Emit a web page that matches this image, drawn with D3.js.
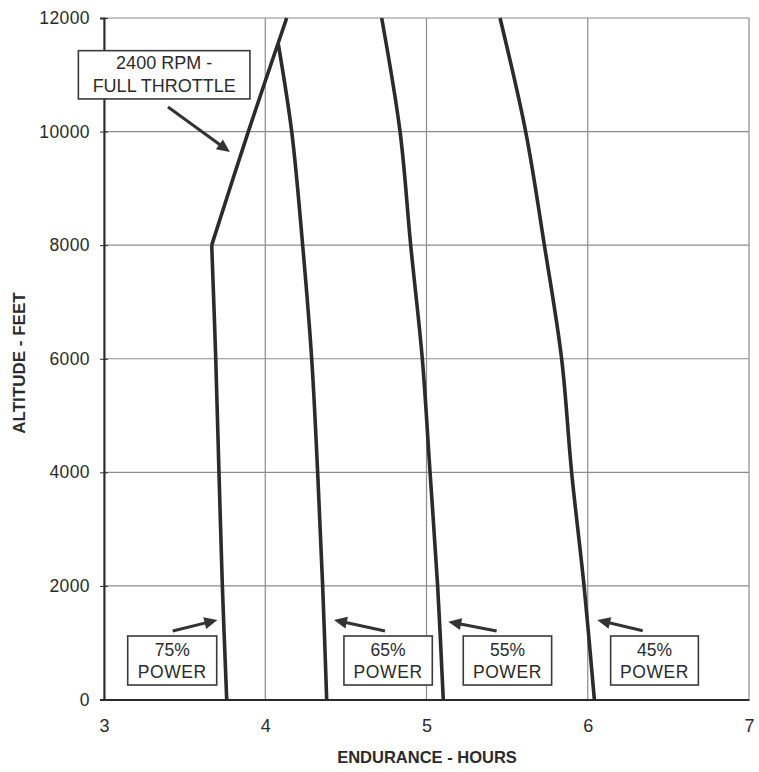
<!DOCTYPE html>
<html>
<head>
<meta charset="utf-8">
<script src="https://cdn.jsdelivr.net/npm/d3@7"></script>
<style>
  html, body { margin: 0; padding: 0; background: #fff; }
  svg { display: block; font-family: "Liberation Sans", Arial, Helvetica, sans-serif; }
</style>
</head>
<body>
<svg id="chart" width="759" height="772"></svg>
<script>
// ---- data ----
const xTicks = [3, 4, 5, 6, 7];
const yTicks = [0, 2000, 4000, 6000, 8000, 10000, 12000];
const xTitle = "ENDURANCE - HOURS";
const yTitle = "ALTITUDE - FEET";

// altitude (ft) / endurance (hours)
const alt75 = [0, 2000, 4000, 6000, 8000];
const end75 = [3.761, 3.734, 3.713, 3.693, 3.668];

const altFull = [8000, 10000, 12000];
const endFull = [3.668, 3.895, 4.133];

const alt65 = [0, 2000, 4000, 6000, 8000, 10000, 11540];
const end65 = [4.381, 4.356, 4.325, 4.288, 4.232, 4.164, 4.081];

const alt55 = [0, 2000, 4000, 6000, 8000, 10000, 12000];
const end55 = [5.104, 5.069, 5.022, 4.974, 4.902, 4.836, 4.722];

const alt45 = [0, 2000, 4000, 6000, 8000, 10000, 12000];
const end45 = [6.041, 5.977, 5.900, 5.838, 5.731, 5.615, 5.456];

// annotations (in data units)
const labelLines = [["2400 RPM -", "FULL THROTTLE"], ["75%", "POWER"], ["65%", "POWER"], ["55%", "POWER"], ["45%", "POWER"]];
const labelBoxX = [[2.841, 3.905], [3.147, 3.699], [4.488, 5.036], [5.228, 5.776], [6.142, 6.686]];
const labelBoxY = [[11425, 10575], [1118, 255], [1118, 255], [1118, 255], [1118, 255]];
const labelBase = [[11094, 10698], [766, 384], [766, 384], [766, 384], [766, 384]];
const arrowFrom = [[3.397, 10433], [3.426, 1206], [4.743, 1206], [5.435, 1206], [6.341, 1211]];
const arrowTo = [[3.781, 9641], [3.703, 1400], [4.426, 1400], [5.135, 1370], [6.059, 1400]];

// ---- layout ----
const svg = d3.select("#chart");
const x = d3.scaleLinear().domain([3, 7]).range([104, 749]);
const y = d3.scaleLinear().domain([0, 12000]).range([699.5, 18]);
const ink = "#2b2b2b";

// gridlines
svg.append("g").selectAll("line").data(xTicks).join("line")
  .attr("x1", d => x(d)).attr("x2", d => x(d))
  .attr("y1", y(0)).attr("y2", y(12000))
  .attr("stroke", "#8c8c8c").attr("stroke-width", 1.2);
svg.append("g").selectAll("line").data(yTicks).join("line")
  .attr("x1", x(3)).attr("x2", x(7))
  .attr("y1", d => y(d)).attr("y2", d => y(d))
  .attr("stroke", "#8c8c8c").attr("stroke-width", 1.2);

// axes
const yAxis = d3.axisLeft(y).tickValues(yTicks).tickSize(4).tickPadding(10).tickFormat(d3.format("d"));
const gy = svg.append("g").attr("transform", `translate(${x(3)},0)`).call(yAxis);
gy.select(".domain").attr("stroke", ink).attr("stroke-width", 2);
gy.selectAll(".tick line").attr("stroke", ink).attr("x2", 4).attr("x1", -4);
gy.selectAll(".tick text").attr("fill", ink).attr("font-size", 17.5)
  .attr("letter-spacing", 0.4).attr("font-family", "Liberation Sans, Arial, sans-serif");

const xAxis = d3.axisBottom(x).tickValues(xTicks).tickSize(0).tickPadding(20).tickFormat(d3.format("d"));
const gx = svg.append("g").attr("transform", `translate(0,${y(0)})`).call(xAxis);
gx.select(".domain").attr("stroke", ink).attr("stroke-width", 2.2);
gx.selectAll(".tick text").attr("fill", ink).attr("font-size", 18)
  .attr("font-family", "Liberation Sans, Arial, sans-serif");

// titles
svg.append("text").attr("x", 427).attr("y", 763).attr("text-anchor", "middle")
  .attr("font-weight", "bold").attr("font-size", 16.5).attr("fill", ink).text(xTitle);
svg.append("text").attr("transform", `translate(25,${363}) rotate(-90)`).attr("text-anchor", "middle")
  .attr("font-weight", "bold").attr("font-size", 17).attr("fill", ink).text(yTitle);

// curves
const line = d3.line().x(d => x(d[0])).y(d => y(d[1])).curve(d3.curveCatmullRom.alpha(0.5));
const series = [[end75, alt75], [endFull, altFull], [end65, alt65], [end55, alt55], [end45, alt45]];
series.forEach(([e, a]) => {
  svg.append("path").datum(e.map((v, i) => [v, a[i]]))
    .attr("d", line).attr("fill", "none")
    .attr("stroke", ink).attr("stroke-width", 3.6)
    .attr("stroke-linejoin", "miter").attr("stroke-linecap", "butt");
});

// annotations
labelLines.forEach((lines, i) => {
  const bx0 = x(labelBoxX[i][0]), bx1 = x(labelBoxX[i][1]);
  const by0 = y(labelBoxY[i][0]), by1 = y(labelBoxY[i][1]);
  svg.append("rect").attr("x", bx0).attr("y", by0)
    .attr("width", bx1 - bx0).attr("height", by1 - by0)
    .attr("fill", "#fff").attr("stroke", "#3a3a3a").attr("stroke-width", 1.6);
  lines.forEach((t, j) => {
    svg.append("text").attr("x", (bx0 + bx1) / 2).attr("y", y(labelBase[i][j]))
      .attr("text-anchor", "middle").attr("font-size", i === 0 ? 18 : 17.5)
      .attr("letter-spacing", t === "POWER" ? 0.6 : 0)
      .attr("fill", ink).text(t);
  });
  // arrow
  const x0 = x(arrowFrom[i][0]), y0 = y(arrowFrom[i][1]);
  const x1 = x(arrowTo[i][0]), y1 = y(arrowTo[i][1]);
  const dx = x1 - x0, dy = y1 - y0, len = Math.hypot(dx, dy);
  const ux = dx / len, uy = dy / len;
  const hl = 13, hw = 6;
  const bx = x1 - ux * hl, by = y1 - uy * hl;
  svg.append("line").attr("x1", x0).attr("y1", y0).attr("x2", bx + ux * 2).attr("y2", by + uy * 2)
    .attr("stroke", "#333").attr("stroke-width", 3);
  svg.append("path")
    .attr("d", `M${x1},${y1}L${bx - uy * hw},${by + ux * hw}L${bx + uy * hw},${by - ux * hw}Z`)
    .attr("fill", "#333");
});
</script>
</body>
</html>
